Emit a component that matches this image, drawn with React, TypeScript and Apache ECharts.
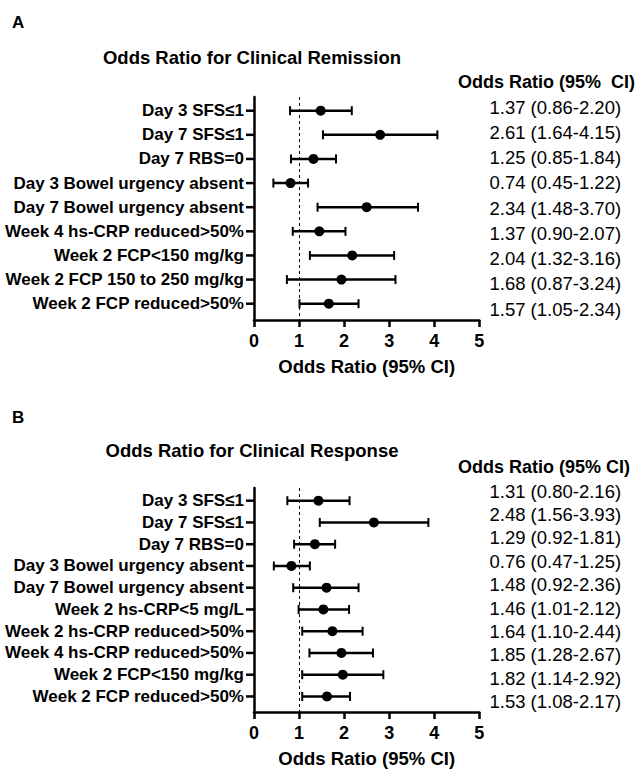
import React, { useEffect, useRef } from "react";
import * as echarts from "echarts";

// ---------- Data ----------
const catsA = [
  "Day 3 SFS≤1",
  "Day 7 SFS≤1",
  "Day 7 RBS=0",
  "Day 3 Bowel urgency absent",
  "Day 7 Bowel urgency absent",
  "Week 4 hs-CRP reduced>50%",
  "Week 2 FCP<150 mg/kg",
  "Week 2 FCP 150 to 250 mg/kg",
  "Week 2 FCP reduced>50%",
];
// plotted positions
const orA = [1.48, 2.8, 1.32, 0.81, 2.5, 1.45, 2.18, 1.94, 1.66];
const lowA = [0.8, 1.53, 0.82, 0.43, 1.41, 0.86, 1.24, 0.73, 1.01];
const highA = [2.17, 4.07, 1.82, 1.2, 3.64, 2.03, 3.11, 3.14, 2.32];
const ciTextA = [
  "1.37 (0.86-2.20)",
  "2.61 (1.64-4.15)",
  "1.25 (0.85-1.84)",
  "0.74 (0.45-1.22)",
  "2.34 (1.48-3.70)",
  "1.37 (0.90-2.07)",
  "2.04 (1.32-3.16)",
  "1.68 (0.87-3.24)",
  "1.57 (1.05-2.34)",
];

const catsB = [
  "Day 3 SFS≤1",
  "Day 7 SFS≤1",
  "Day 7 RBS=0",
  "Day 3 Bowel urgency absent",
  "Day 7 Bowel urgency absent",
  "Week 2 hs-CRP<5 mg/L",
  "Week 2 hs-CRP reduced>50%",
  "Week 4 hs-CRP reduced>50%",
  "Week 2 FCP<150 mg/kg",
  "Week 2 FCP reduced>50%",
];
const orB = [1.43, 2.66, 1.35, 0.83, 1.61, 1.54, 1.74, 1.94, 1.97, 1.62];
const lowB = [0.74, 1.46, 0.89, 0.44, 0.87, 0.99, 1.07, 1.23, 1.07, 1.07];
const highB = [2.12, 3.87, 1.8, 1.24, 2.32, 2.11, 2.41, 2.64, 2.87, 2.13];
const ciTextB = [
  "1.31 (0.80-2.16)",
  "2.48 (1.56-3.93)",
  "1.29 (0.92-1.81)",
  "0.76 (0.47-1.25)",
  "1.48 (0.92-2.36)",
  "1.46 (1.01-2.12)",
  "1.64 (1.10-2.44)",
  "1.85 (1.28-2.67)",
  "1.82 (1.14-2.92)",
  "1.53 (1.08-2.17)",
];

const xTickMin = 0;
const xTickMax = 5;
const xTickInterval = 1;
const refLine = 1;

const titlesText = ["Odds Ratio for Clinical Remission", "Odds Ratio for Clinical Response"];
const panelLetters = ["A", "B"];
const headerTexts = ["Odds Ratio (95%  CI)", "Odds Ratio (95% CI)"];
const xAxisTitle = "Odds Ratio (95% CI)";

// ---------- Layout ----------
const FONT = '"Liberation Sans", Arial, Helvetica, sans-serif';
const PLOT_LEFT = 254;
const PLOT_WIDTH = 225.3;
const Y_TICK_LEN = 8;

const panels = [
  {
    cats: catsA, or: orA, low: lowA, high: highA, ci: ciTextA,
    rowTop: 110.7, rowStep: 24.125, axisTop: 97, axisBottom: 320,
    valTop: 107, valStep: 25.25, titleY: 57, letterY: 22, headerY: 82,
  },
  {
    cats: catsB, or: orB, low: lowB, high: highB, ci: ciTextB,
    rowTop: 500.7, rowStep: 21.75, axisTop: 488, axisBottom: 712,
    valTop: 491, valStep: 23.4, titleY: 450, letterY: 417, headerY: 467,
  },
];

function buildOption() {
  const grid: any[] = [];
  const xAxis: any[] = [];
  const yAxis: any[] = [];
  const series: any[] = [];
  const graphic: any[] = [];

  panels.forEach((p, k) => {
    const n = p.cats.length;
    const base = grid.length;
    const g = { outerBoundsMode: "none", containLabel: false };
    grid.push({ ...g, left: PLOT_LEFT, top: p.axisTop, width: PLOT_WIDTH, height: p.axisBottom - p.axisTop });
    grid.push({ ...g, left: PLOT_LEFT, top: p.rowTop - p.rowStep / 2, width: PLOT_WIDTH, height: p.rowStep * n });
    grid.push({ ...g, left: PLOT_LEFT, top: p.valTop - p.valStep / 2, width: PLOT_WIDTH, height: p.valStep * n });

    xAxis.push({
      type: "value", gridIndex: base, min: xTickMin, max: xTickMax, interval: xTickInterval,
      axisLine: { show: true, onZero: false, lineStyle: { color: "#000", width: 2.5 } },
      axisTick: { show: true, length: 7, lineStyle: { color: "#000", width: 2.5 } },
      axisLabel: { color: "#000", fontSize: 18, fontWeight: "bold", fontFamily: FONT, margin: 12 },
      splitLine: { show: false },
      name: xAxisTitle, nameLocation: "middle", nameGap: 37,
      nameTextStyle: { color: "#000", fontSize: 18.5, fontWeight: "bold", fontFamily: FONT },
    });
    xAxis.push({ type: "value", gridIndex: base + 1, min: xTickMin, max: xTickMax, show: false });
    xAxis.push({ type: "value", gridIndex: base + 2, min: xTickMin, max: xTickMax, show: false });

    const yMin = (p.axisTop - p.rowTop) / p.rowStep;
    const yMax = (p.axisBottom - p.rowTop) / p.rowStep;
    yAxis.push({
      type: "value", gridIndex: base, min: yMin, max: yMax, inverse: true,
      axisLine: { show: true, onZero: false, lineStyle: { color: "#000", width: 2.5 } },
      axisTick: { show: false }, axisLabel: { show: false }, splitLine: { show: false },
    });
    yAxis.push({
      type: "category", gridIndex: base + 1, data: p.cats, inverse: true,
      axisLine: { show: false, onZero: false },
      axisTick: { show: false },
      axisLabel: { interval: 0, color: "#000", fontSize: 17, fontWeight: "bold", fontFamily: FONT, margin: 10 },
      splitLine: { show: false },
    });
    yAxis.push({
      type: "category", gridIndex: base + 2, data: p.ci, inverse: true, position: "right",
      axisLine: { show: false }, axisTick: { show: false },
      axisLabel: { interval: 0, color: "#000", fontSize: 18.5, fontFamily: FONT, margin: 76, align: "center" },
      splitLine: { show: false },
    });

    series.push({
      type: "custom",
      xAxisIndex: base, yAxisIndex: base,
      data: p.cats.map((_, i) => [i, p.low[i], p.high[i]]),
      encode: { x: [1, 2], y: 0 },
      clip: false,
      z: 3,
      renderItem: (params: any, api: any) => {
        const y = api.value(0);
        const a = api.coord([api.value(1), y]);
        const b = api.coord([api.value(2), y]);
        const t = api.coord([xTickMin, y]);
        const cap = 4.5;
        const style = { stroke: "#000", lineWidth: 2.5 };
        return {
          type: "group",
          children: [
            { type: "line", shape: { x1: t[0] - Y_TICK_LEN, y1: t[1], x2: t[0], y2: t[1] }, style: { stroke: "#000", lineWidth: 2.5 } },
            { type: "line", shape: { x1: a[0], y1: a[1], x2: b[0], y2: b[1] }, style },
            { type: "line", shape: { x1: a[0], y1: a[1] - cap, x2: a[0], y2: a[1] + cap }, style: { stroke: "#000", lineWidth: 2 } },
            { type: "line", shape: { x1: b[0], y1: b[1] - cap, x2: b[0], y2: b[1] + cap }, style: { stroke: "#000", lineWidth: 2 } },
          ],
        };
      },
    });
    series.push({
      type: "scatter",
      xAxisIndex: base, yAxisIndex: base,
      data: p.or.map((v, i) => [v, i]),
      symbol: "circle", symbolSize: 10,
      itemStyle: { color: "#000", opacity: 1 },
      z: 4,
      markLine: {
        silent: true, symbol: "none", label: { show: false },
        lineStyle: { color: "#000", width: 1, type: [3, 3] },
        data: [{ xAxis: refLine }],
        z: 1,
      },
    });

    graphic.push({
      type: "text", x: 12, y: p.letterY,
      style: { text: panelLetters[k], font: `bold 17px ${FONT}`, fill: "#000", verticalAlign: "middle" },
    });
    graphic.push({
      type: "text", x: 252, y: p.titleY,
      style: { text: titlesText[k], font: `bold 18.5px ${FONT}`, fill: "#000", align: "center", verticalAlign: "middle" },
    });
    graphic.push({
      type: "text", x: 458, y: p.headerY,
      style: { text: headerTexts[k], font: `bold 18px ${FONT}`, fill: "#000", verticalAlign: "middle" },
    });
  });

  return {
    animation: false,
    backgroundColor: "#fff",
    grid, xAxis, yAxis, series, graphic,
  };
}

export default function App() {
  const ref = useRef<HTMLDivElement>(null);
  useEffect(() => {
    if (!ref.current) return;
    const chart = echarts.init(ref.current, null, { renderer: "svg" });
    chart.setOption(buildOption() as any);
    return () => chart.dispose();
  }, []);
  return (
    <div
      ref={ref}
      style={{ position: "absolute", left: 0, top: 0, width: 641, height: 769, background: "#fff" }}
    />
  );
}
